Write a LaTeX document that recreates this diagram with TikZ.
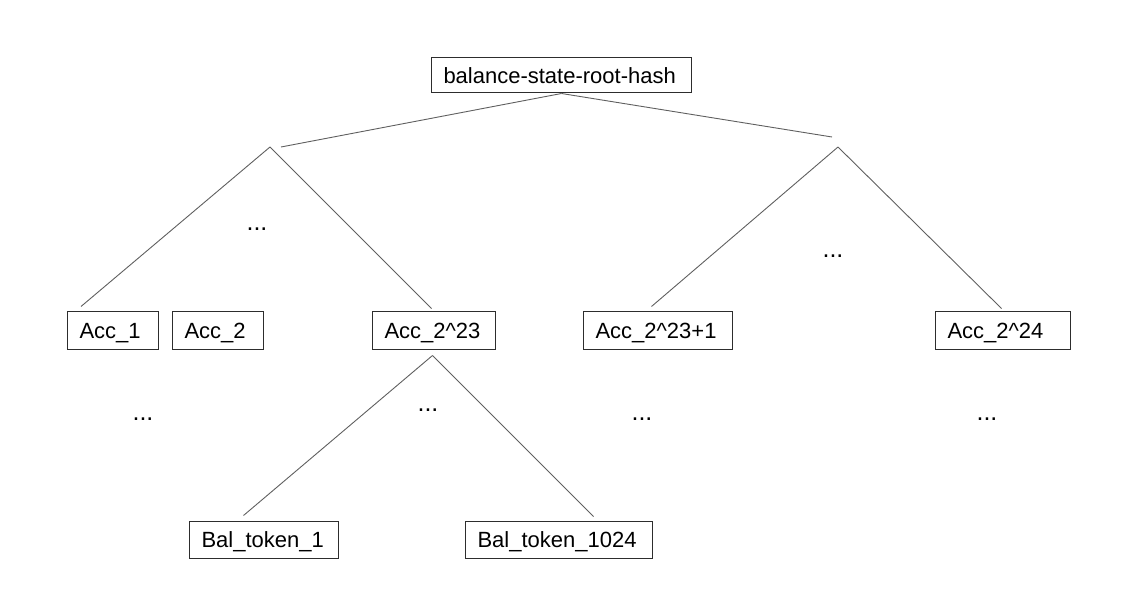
\documentclass[tikz,border=0pt]{standalone}
\usepackage{fontspec}
\setmainfont{Liberation Sans}
\definecolor{edgegray}{RGB}{95,95,95}
\definecolor{boxline}{RGB}{45,45,45}
\tikzset{
	hashbox/.style={draw=boxline, line width=1pt, anchor=west, align=left, text width=#1, text height=15.8pt, text depth=0pt, inner xsep=12pt, inner ysep=0pt, minimum height=38pt, font=\fontsize{22}{26}\selectfont},
	edge/.style={draw=edgegray, line width=0.9pt},
	dots/.style={inner sep=0pt, font=\fontsize{25}{28}\selectfont}
}

\begin{document}
\begin{tikzpicture}[x=1pt,y=-1pt]
	\useasboundingbox (0,0) rectangle (1122,609);
	\node[hashbox=236pt, minimum height=35pt] (root) at (431,75.5) {balance-state-root-hash};
	\node[hashbox=67pt] (acc1) at (67,331) {Acc\_1};
	\node[hashbox=67pt] (acc2) at (172,331) {Acc\_2};
	\node[hashbox=99pt] (accmid) at (372,331) {Acc\_2\textasciicircum{}23};
	\node[hashbox=125pt] (accnext) at (583,331) {Acc\_2\textasciicircum{}23+1};
	\node[hashbox=111pt] (acclast) at (935,331) {Acc\_2\textasciicircum{}24};
	\node[hashbox=125pt, minimum height=37pt] (bal1) at (189,539.5) {Bal\_token\_1};
	\node[hashbox=163pt, minimum height=37pt] (ballast) at (465,539.5) {Bal\_token\_1024};
	% subtree tops
	\coordinate (leftend) at (281,147);
	\coordinate (rightend) at (832,137);
	\coordinate (lefttop) at (270,147);
	\coordinate (righttop) at (838,147);
	\coordinate (baltop) at ([xshift=-1.5pt,yshift=-5pt]accmid.south);
	\draw[edge] (root.south) -- (leftend);
	\draw[edge] (root.south) -- (rightend);
	\draw[edge] (lefttop) -- ([xshift=14pt,yshift=5pt]acc1.north west);
	\draw[edge] (lefttop) -- ([xshift=-2.5pt,yshift=3pt]accmid.north);
	\draw[edge] (righttop) -- ([xshift=-6.5pt,yshift=5pt]accnext.north);
	\draw[edge] (righttop) -- ([xshift=-1.5pt,yshift=3pt]acclast.north);
	\draw[edge] (baltop) -- ([xshift=-20.5pt,yshift=5pt]bal1.north);
	\draw[edge] (baltop) -- ([xshift=34.5pt,yshift=4pt]ballast.north);
	% dots
	\node[dots] (dotsleft) at (257,229) {...};
	\node[dots] (dotsright) at (833,256) {...};
	\node[dots] (dotsacc1) at (143,419) {...};
	\node[dots] (dotsmid) at (428,410) {...};
	\node[dots] (dotsnext) at (642,419) {...};
	\node[dots] (dotslast) at (987,419) {...};
\end{tikzpicture}
\end{document}
